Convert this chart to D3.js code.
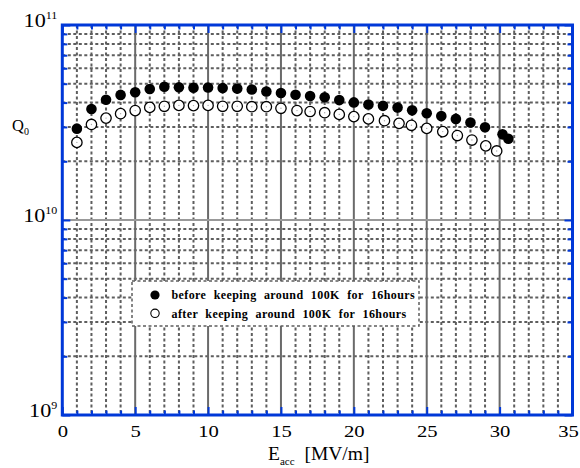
<!DOCTYPE html>
<html><head><meta charset="utf-8">
<script src="https://cdn.jsdelivr.net/npm/d3@7"></script>
<style>body{margin:0;background:#fff} svg text{font-family:'Liberation Serif','Times New Roman','DejaVu Serif',serif;}</style></head>
<body><svg id="c" width="580" height="468" xmlns="http://www.w3.org/2000/svg"></svg>
<script>
// ---- data ----
const eaccBefore = [1,2,3,4,5,6,7,8,9,10,11,12,13,14,15,16,17,18,19,20,21,22,23,24,25,26,27,28,29,30.2,30.6];
const q0Before   = [2.94e10,3.71e10,4.14e10,4.38e10,4.52e10,4.70e10,4.82e10,4.79e10,4.77e10,4.78e10,4.75e10,4.72e10,4.67e10,4.56e10,4.48e10,4.39e10,4.32e10,4.26e10,4.12e10,4.01e10,3.91e10,3.85e10,3.77e10,3.65e10,3.53e10,3.41e10,3.30e10,3.16e10,2.99e10,2.75e10,2.61e10];
const eaccAfter  = [1,2,3,4,5,6,7,8,9,10,11,12,13,14,15,16.1,17,18,19,20,21,22.1,23.1,23.95,25,26.1,27.1,28.1,29.05,29.8];
const q0After    = [2.50e10,3.09e10,3.33e10,3.51e10,3.64e10,3.78e10,3.83e10,3.87e10,3.86e10,3.87e10,3.83e10,3.83e10,3.81e10,3.81e10,3.74e10,3.64e10,3.60e10,3.55e10,3.48e10,3.39e10,3.30e10,3.23e10,3.13e10,3.06e10,2.95e10,2.84e10,2.71e10,2.57e10,2.40e10,2.26e10];
const xTickLabels = ["0","5","10","15","20","25","30","35"];
const yTickExponents = ["9","10","11"];
const legendLabels = ["before keeping around 100K for 16hours","after keeping around 100K for 16hours"];

// ---- layout ----
const L = 62.3, R = 572.5, T = 25, B = 415;
const blue = "#0038d8", grid = "#5e5e5e";
const font = "'Liberation Serif','Times New Roman','DejaVu Serif',serif";
const svg = d3.select("#c");
const x = d3.scaleLinear().domain([0, 35]).range([L, R]);
const y = d3.scaleLog().domain([1e9, 1e11]).range([B, T]);

const xMajor = xTickLabels.map(Number);
const xMinor = d3.range(1, 35).filter(v => v % 5 !== 0);
const yMajor = yTickExponents.map(e => Math.pow(10, +e));
const yMinor = [];
[1e9, 1e10].forEach(d => { for (let k = 2; k <= 9; k++) yMinor.push(k * d); });

// minor grid (dashed)
const gGrid = svg.append("g");
gGrid.selectAll(".vx").data(xMinor).join("line")
  .attr("x1", d => x(d)).attr("x2", d => x(d)).attr("y1", T).attr("y2", B)
  .attr("stroke", grid).attr("stroke-width", 2).attr("stroke-dasharray", "3,2.5");
gGrid.selectAll(".hy").data(yMinor).join("line")
  .attr("x1", L).attr("x2", R).attr("y1", d => y(d)).attr("y2", d => y(d))
  .attr("stroke", grid).attr("stroke-width", 2).attr("stroke-dasharray", "3,2.5");
// major grid (solid)
gGrid.selectAll(".vX").data(xMajor.filter(v => v > 0 && v < 35)).join("line")
  .attr("x1", d => x(d)).attr("x2", d => x(d)).attr("y1", T).attr("y2", B)
  .attr("stroke", "#6a6a6a").attr("stroke-width", 2);
gGrid.selectAll(".hY").data([1e10]).join("line")
  .attr("x1", L).attr("x2", R).attr("y1", d => y(d)).attr("y2", d => y(d))
  .attr("stroke", "#999").attr("stroke-width", 2);

// legend box
const lg = svg.append("g");
lg.append("rect").attr("x", 132).attr("y", 281).attr("width", 287).attr("height", 45)
  .attr("fill", "#fff").attr("stroke", grid).attr("stroke-width", 1.5).attr("stroke-dasharray", "3,2.5");
const legendRows = [{filled: true, label: legendLabels[0]}, {filled: false, label: legendLabels[1]}];
legendRows.forEach((r, i) => {
  const cy = 295 + i * 18.3;
  lg.append("circle").attr("cx", 155).attr("cy", cy).attr("r", r.filled ? 4.6 : 4.2)
    .attr("fill", r.filled ? "#000" : "#fff").attr("stroke", "#000").attr("stroke-width", r.filled ? 0 : 1.1);
  lg.append("text").attr("x", 171.5).attr("y", cy + 4.3)
    .style("font-family", font).attr("font-weight", "bold").attr("font-size", 12)
    .attr("word-spacing", 4).attr("letter-spacing", 0.4).text(r.label);
});

// data points
const before = eaccBefore.map((e, i) => [e, q0Before[i]]);
const after = eaccAfter.map((e, i) => [e, q0After[i]]);
svg.append("g").selectAll("circle").data(after).join("circle")
  .attr("cx", d => x(d[0])).attr("cy", d => y(d[1])).attr("r", 5.2)
  .attr("fill", "#fff").attr("stroke", "#000").attr("stroke-width", 1.3);
svg.append("g").selectAll("circle").data(after).join("circle")
  .attr("cx", d => x(d[0])).attr("cy", d => y(d[1])).attr("r", 0.7).attr("fill", "#aaa");
svg.append("g").selectAll("circle").data(before).join("circle")
  .attr("cx", d => x(d[0])).attr("cy", d => y(d[1])).attr("r", 5.3).attr("fill", "#000");

// axes / ticks (inward, mirrored)
function styleAxis(g) {
  g.select(".domain").remove();
  g.attr("font-family", null);
  g.selectAll(".tick line").attr("stroke", blue).attr("stroke-width", 2);
}
// bottom
svg.append("g").attr("transform", `translate(0,${B})`)
  .call(d3.axisBottom(x).tickValues(xMinor).tickSizeInner(-4.5).tickSizeOuter(0).tickFormat(""))
  .call(styleAxis);
svg.append("g").attr("transform", `translate(0,${B})`)
  .call(d3.axisBottom(x).tickValues(xMajor).tickSizeInner(-8).tickSizeOuter(0).tickPadding(10)
    .tickFormat((d, i) => xTickLabels[i]))
  .call(styleAxis)
  .call(g => g.selectAll("text").style("font-family", font).attr("font-size", 17.5).attr("fill", "#000")
    .attr("transform", (d, i) => `translate(${i === xTickLabels.length - 1 ? -4.5 : 0},0) scale(1.18,1)`));
// top
svg.append("g").attr("transform", `translate(0,${T})`)
  .call(d3.axisTop(x).tickValues(xMinor).tickSizeInner(-4.5).tickSizeOuter(0).tickFormat(""))
  .call(styleAxis);
svg.append("g").attr("transform", `translate(0,${T})`)
  .call(d3.axisTop(x).tickValues(xMajor).tickSizeInner(-8).tickSizeOuter(0).tickFormat(""))
  .call(styleAxis);
// left
svg.append("g").attr("transform", `translate(${L},0)`)
  .call(d3.axisLeft(y).tickValues(yMinor).tickSizeInner(-5).tickSizeOuter(0).tickFormat(""))
  .call(styleAxis);
svg.append("g").attr("transform", `translate(${L},0)`)
  .call(d3.axisLeft(y).tickValues(yMajor).tickSizeInner(-8).tickSizeOuter(0).tickPadding(5).tickFormat(""))
  .call(styleAxis)
  .call(g => g.selectAll(".tick").each(function(d, i) {
    const t = d3.select(this).select("text").style("font-family", font).attr("fill", "#000")
      .attr("x", 0).attr("dy", null).attr("y", 1.5).attr("text-anchor", "end")
      .attr("transform", "translate(-5,0) scale(1.2,1)");
    t.text("");
    t.append("tspan").attr("font-size", 18.5).text("10");
    t.append("tspan").attr("font-size", 10).attr("dy", -8).text(yTickExponents[i]);
  }));
// right
svg.append("g").attr("transform", `translate(${R},0)`)
  .call(d3.axisRight(y).tickValues(yMinor).tickSizeInner(-5).tickSizeOuter(0).tickFormat(""))
  .call(styleAxis);
svg.append("g").attr("transform", `translate(${R},0)`)
  .call(d3.axisRight(y).tickValues(yMajor).tickSizeInner(-8).tickSizeOuter(0).tickFormat(""))
  .call(styleAxis);

// frame
svg.append("rect").attr("x", L).attr("y", T).attr("width", R - L).attr("height", B - T)
  .attr("fill", "none").attr("stroke", blue).attr("stroke-width", 3);

// axis titles
const xt = svg.append("text").attr("x", 268).attr("y", 460).style("font-family", font).attr("font-size", 19.5);
xt.append("tspan").text("E");
xt.append("tspan").attr("font-size", 11).attr("dy", 5).text("acc");
xt.append("tspan").attr("dy", -5).attr("dx", 5).text(" [MV/m]");
const yt = svg.append("text").attr("x", 12).attr("y", 131).style("font-family", font).attr("font-size", 16.5);
yt.append("tspan").text("Q");
yt.append("tspan").attr("font-size", 10).attr("dy", 4).text("0");
</script>
</body></html>
